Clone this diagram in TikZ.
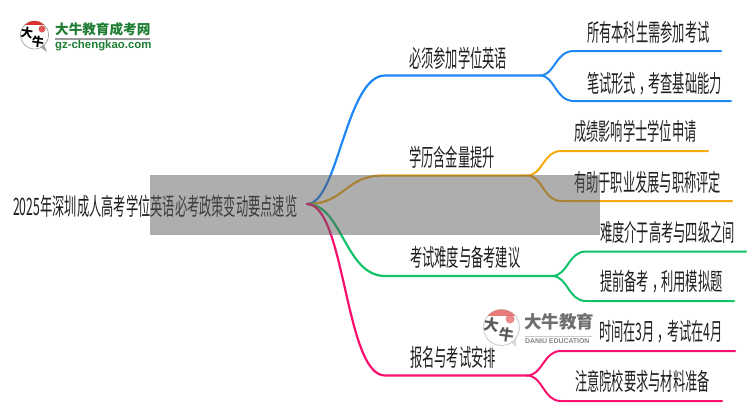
\documentclass[tikz,border=0pt]{standalone}
\usepackage{fontspec}
\setmainfont{Liberation Sans}
\newfontfamily\cjknarrow[FakeStretch=.51]{Noto Sans CJK SC}
\newfontfamily\cjkplain{Noto Sans CJK SC}
\newcommand{\cmm}{\hspace{3pt}，\hspace{-3pt}}
\definecolor{cblue}{HTML}{1E87F5}
\definecolor{corange}{HTML}{F5A90F}
\definecolor{cgreen}{HTML}{10C268}
\definecolor{cpink}{HTML}{FA0F6E}
\definecolor{logogreen}{HTML}{1E7D32}
\definecolor{logored}{HTML}{D8322E}
\definecolor{bandgrey}{HTML}{5D5D5D}
\tikzset{
  x=1pt,y=-1pt,
  lbl/.style={anchor=west,inner sep=0pt,text=black!88,font=\cjknarrow\fontsize{24}{26}\selectfont},
  trunk/.style={line width=2.2pt,line cap=round},
  twig/.style={line width=2pt,line cap=round},
  seal/.style={inner sep=0pt,font=\cjkplain\bfseries},
}
\begin{document}
\begin{tikzpicture}
\useasboundingbox (0,0) rectangle (750,410);
% junction points
\coordinate (root) at (307,204);
\coordinate (a0) at (385,75.5); \coordinate (a1) at (540,75.5);
\coordinate (b0) at (383,175.5); \coordinate (b1) at (527,175.5);
\coordinate (c0) at (385,276); \coordinate (c1) at (552,276);
\coordinate (d0) at (385,375.5); \coordinate (d1) at (527,375.5);
\coordinate (a2s) at (574,51); \coordinate (a2e) at (721,51);
\coordinate (a3s) at (574,101); \coordinate (a3e) at (731,101);
\coordinate (b2s) at (561,151); \coordinate (b2e) at (708,151);
\coordinate (b3s) at (561,201); \coordinate (b3e) at (732,201);
\coordinate (c2s) at (586,251.5); \coordinate (c2e) at (746,251.5);
\coordinate (c3s) at (586,301); \coordinate (c3e) at (734,301);
\coordinate (d2s) at (561,351); \coordinate (d2e) at (735,351);
\coordinate (d3s) at (561,401); \coordinate (d3e) at (722,401);
% branches
\draw[trunk,cblue] (root) .. controls (338,204) and (346,75.5) .. (a0) -- (a1);
\draw[twig,cblue] (a1) .. controls (555,75.5) and (555,51) .. (a2s) -- (a2e);
\draw[twig,cblue] (a1) .. controls (555,75.5) and (555,101) .. (a3s) -- (a3e);
\draw[trunk,corange] (root) .. controls (345,204) and (345,175.5) .. (b0) -- (b1);
\draw[twig,corange] (b1) .. controls (543,175.5) and (543,151) .. (b2s) -- (b2e);
\draw[twig,corange] (b1) .. controls (543,175.5) and (543,201) .. (b3s) -- (b3e);
\draw[trunk,cgreen] (root) .. controls (342,204) and (345,276) .. (c0) -- (c1);
\draw[twig,cgreen] (c1) .. controls (568,276) and (568,251.5) .. (c2s) -- (c2e);
\draw[twig,cgreen] (c1) .. controls (568,276) and (568,301) .. (c3s) -- (c3e);
\draw[trunk,cpink] (root) .. controls (345,204) and (345,375.5) .. (d0) -- (d1);
\draw[twig,cpink] (d1) .. controls (543,375.5) and (543,351) .. (d2s) -- (d2e);
\draw[twig,cpink] (d1) .. controls (543,375.5) and (543,401) .. (d3s) -- (d3e);
% labels
\node[lbl] (troot) at (13,206) {2025年深圳成人高考学位英语必考政策变动要点速览};
\node[lbl] (ta) at (409,58) {必须参加学位英语};
\node[lbl] (tb) at (409,157) {学历含金量提升};
\node[lbl] (tc) at (410,257) {考试难度与备考建议};
\node[lbl] (td) at (410,357) {报名与考试安排};
\node[lbl] (ta1) at (587,32) {所有本科生需参加考试};
\node[lbl] (ta2) at (587,84) {笔试形式\cmm 考查基础能力};
\node[lbl] (tb1) at (574,131) {成绩影响学士学位申请};
\node[lbl] (tb2) at (574,182) {有助于职业发展与职称评定};
\node[lbl] (tc1) at (600,232) {难度介于高考与四级之间};
\node[lbl] (tc2) at (600,282) {提前备考\cmm 利用模拟题};
\node[lbl] (td2) at (575,381) {注意院校要求与材料准备};
% top-left logo
\fill[white,draw=black!35,line width=.7pt] (34.5,35) circle (14);
\fill[black!35] (40,47) -- (47,52) -- (44,44) -- cycle;
\begin{scope}
\clip (34.5,35) circle (14);
\fill[logored] (20,19) rectangle (50,24.5);
\end{scope}
\fill[logored!80] (42,29) circle (3.5);
\node[seal,text=black,rotate=-8] (la) at (27,33) {\fontsize{12}{12}\selectfont 大};
\node[seal,text=black,rotate=-8] (lb) at (38,42) {\fontsize{12}{12}\selectfont 牛};
\node[seal,text=logogreen,anchor=west] (lc) at (55,29) {\fontsize{13.6}{14}\selectfont 大牛教育成考网};
\fill[black!40] (55,38) rectangle (150,39.5);
\node[anchor=west,inner sep=0pt,text=logogreen] (ld) at (55,46) {\fontsize{11.4}{12}\selectfont\bfseries gz-chengkao.com};
% watermark
\begin{scope}[opacity=.8]
\fill[white] (483,308) rectangle (598,348);
\draw[black!22,line width=1pt,fill=white] (501.5,327.5) circle (18);
\fill[black!18] (511,342) -- (516,347) -- (516,338) -- cycle;
\begin{scope}
\clip (501.5,327.5) circle (18);
\fill[logored!80] (483,309) rectangle (520,315.5);
\end{scope}
\fill[logored!70] (510,319) circle (4.5);
\node[seal,text=black!80,rotate=-8] (wa) at (492,325) {\fontsize{15}{15}\selectfont 大};
\node[seal,text=black!80,rotate=-8] (wb) at (507,335) {\fontsize{15}{15}\selectfont 牛};
\node[seal,text=black!70,anchor=west] (wc) at (524,322) {\fontsize{17.5}{18}\selectfont 大牛教育};
\fill[black!25] (525,335.5) rectangle (592,336.2);
\node[anchor=west,inner sep=0pt,text=black!60] (wd) at (525,341.5) {\fontsize{6.9}{7}\selectfont\bfseries DANIU EDUCATION};
\end{scope}
\node[lbl] (td1) at (599,332) {时间在3月\cmm 考试在4月};
% grey band
\fill[bandgrey,opacity=.5] (150,175) rectangle (600,235);
\end{tikzpicture}
\end{document}
